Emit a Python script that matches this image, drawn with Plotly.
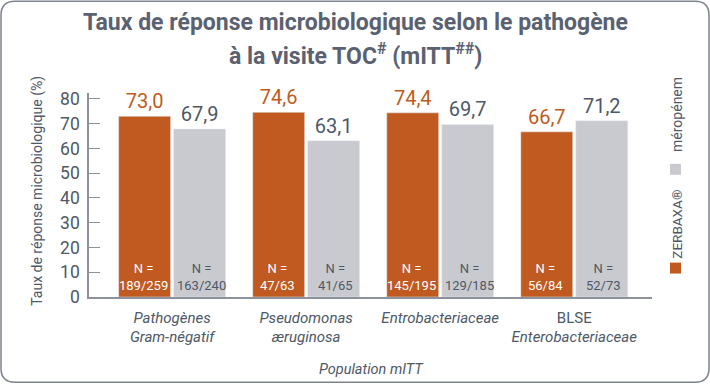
import plotly.graph_objects as go

categories = ["Pathogènes Gram-négatif", "Pseudomonas æruginosa",
              "Entrobacteriaceae", "BLSE Enterobacteriaceae"]
tick_labels = ["<i>Pathogènes</i><br><i>Gram-négatif</i>", "<i>Pseudomonas</i><br><i>æruginosa</i>",
               "<i>Entrobacteriaceae</i>", "BLSE<br><i>Enterobacteriaceae</i>"]
zerbaxa = [73.0, 74.6, 74.4, 66.7]
meropenem = [67.9, 63.1, 69.7, 71.2]
zerbaxa_n = ["189/259", "47/63", "145/195", "56/84"]
meropenem_n = ["163/240", "41/65", "129/185", "52/73"]
series_names = ["ZERBAXA®", "méropénem"]
y_ticks = [0, 10, 20, 30, 40, 50, 60, 70, 80]

W, H = 710, 384
PL, PR, PT, PB = 89, 652, 93, 297.5          # plot box in pixels
L, R, T, B = PL, W - PR, PT, H - PB
FONT = "Roboto, Liberation Sans, sans-serif"
ORANGE = "#c05a20"
GRAY = "#c9cacf"
TXT = "#4e5866"
TITLE = "#5a6170"
AXIS = "#8c919b"

pw, ph = PR - PL, PB - PT
def px(x):
    return (x - PL) / pw
def py(y):
    return (PB - y) / ph

def fmt(v):
    return f"{v:.1f}".replace(".", ",")

x_idx = list(range(len(categories)))

fig = go.Figure()
fig.add_bar(x=x_idx, y=zerbaxa, name=series_names[0], marker_color=ORANGE,
            text=[fmt(v) for v in zerbaxa], textposition="outside",
            textfont=dict(color=ORANGE, size=20, family=FONT), cliponaxis=False)
fig.add_bar(x=x_idx, y=meropenem, name=series_names[1], marker_color=GRAY,
            text=[fmt(v) for v in meropenem], textposition="outside",
            textfont=dict(color=TXT, size=20, family=FONT), cliponaxis=False)

def ann(x, y, text, size, color=TXT, angle=0):
    return dict(x=px(x), y=py(y), xref="paper", yref="paper", text=text,
                textangle=angle, showarrow=False, xanchor="center", yanchor="middle",
                font=dict(color=color, size=size, family=FONT))

annotations = []
for i in x_idx:
    annotations.append(dict(x=i, y=0, xref="x", yref="y", xshift=-29, yshift=2,
                            xanchor="center", yanchor="bottom", showarrow=False,
                            text="N =<br>" + zerbaxa_n[i],
                            font=dict(color="white", size=13, family=FONT)))
    annotations.append(dict(x=i, y=0, xref="x", yref="y", xshift=29, yshift=2,
                            xanchor="center", yanchor="bottom", showarrow=False,
                            text="N =<br>" + meropenem_n[i],
                            font=dict(color=TXT, size=13, family=FONT)))

annotations.append(ann(355, 22, "<b>Taux de réponse microbiologique selon le pathogène</b>", 23, TITLE))
annotations.append(ann(355, 54, "<b>à la visite TOC<sup>#</sup> (mITT<sup>##</sup>)</b>", 23, TITLE))
annotations.append(ann(38, 191, "Taux de réponse microbiologique (%)", 14, angle=-90))
annotations.append(ann(372, 370, "<i>Population mITT</i>", 14.5))
annotations.append(ann(677, 225, series_names[0], 13.5, angle=-90))
annotations.append(ann(677, 115, series_names[1], 14, angle=-90))

shapes = []
shapes.append(dict(type="rect", xref="paper", yref="paper", x0=px(670), x1=px(681),
                   y0=py(274), y1=py(263), fillcolor=ORANGE, line_width=0))
shapes.append(dict(type="rect", xref="paper", yref="paper", x0=px(670), x1=px(681),
                   y0=py(175), y1=py(164), fillcolor=GRAY, line_width=0))
x0, x1, y0, y1, r = 1, 709, 1, 383, 14
def P(x, y):
    return f"{px(x):.5f},{py(y):.5f}"
path = (f"M {P(x0+r, y0)} L {P(x1-r, y0)} Q {P(x1, y0)} {P(x1, y0+r)} "
        f"L {P(x1, y1-r)} Q {P(x1, y1)} {P(x1-r, y1)} "
        f"L {P(x0+r, y1)} Q {P(x0, y1)} {P(x0, y1-r)} "
        f"L {P(x0, y0+r)} Q {P(x0, y0)} {P(x0+r, y0)} Z")
shapes.append(dict(type="path", xref="paper", yref="paper", path=path,
                   line=dict(color="#7d838d", width=1.5), layer="below"))

fig.update_layout(
    width=W, height=H, margin=dict(l=L, r=R, t=T, b=B, autoexpand=False),
    paper_bgcolor="white", plot_bgcolor="white",
    barmode="group", bargap=0.18, bargroupgap=0.055,
    showlegend=False,
    font=dict(family=FONT, color=TXT),
    xaxis=dict(tickmode="array", tickvals=x_idx, ticktext=tick_labels, tickangle=0,
               range=[-0.62, 3.58], showline=True, linecolor=AXIS, linewidth=1.5,
               ticks="", showgrid=False, zeroline=False, ticklabelstandoff=6,
               tickfont=dict(size=15, color=TXT, family=FONT)),
    yaxis=dict(range=[0, 82.4], tickvals=y_ticks, showline=True, linecolor=AXIS,
               linewidth=1.5, ticks="inside", ticklen=11, tickcolor=AXIS, tickwidth=1.2,
               showgrid=False, zeroline=False, ticklabelstandoff=4,
               tickfont=dict(size=17.5, color=TXT, family=FONT)),
    annotations=annotations, shapes=shapes,
)

fig.write_html("out.html", config={"displayModeBar": False},
               post_script="document.body.style.margin='0';document.body.style.overflow='hidden';")
